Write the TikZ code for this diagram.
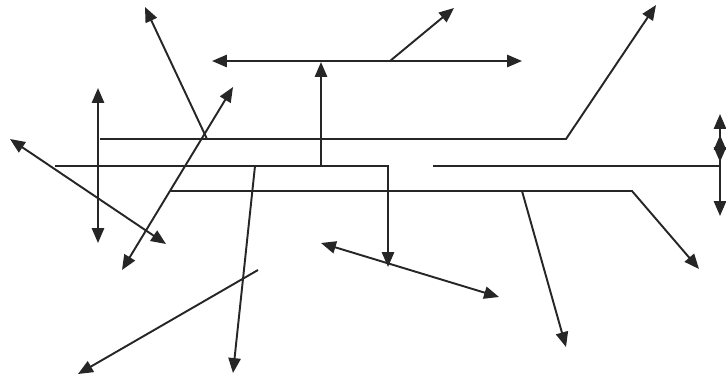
\documentclass[tikz,border=0pt]{standalone}
\usetikzlibrary{arrows.meta}
\begin{document}
\begin{tikzpicture}[x=0.02cm,y=-0.02cm,
  ln/.style={draw=black!85,line width=1.1pt,line join=miter},
  arr/.style={ln,-{Triangle[length=8.5pt,width=7pt]}},
  darr/.style={ln,{Triangle[length=8.5pt,width=7pt]}-{Triangle[length=8.5pt,width=7pt]}}]
\useasboundingbox (0,0) rectangle (726,386);
% coordinates
\coordinate (a0) at (100,139); \coordinate (a1) at (566,139); \coordinate (a2) at (656,5);
\coordinate (v0) at (98,88);   \coordinate (v1) at (98,243);
\coordinate (b0) at (55,166);  \coordinate (b1) at (388,166); \coordinate (b2) at (388,267);
\coordinate (u0) at (321,166); \coordinate (u1) at (321,62);
\coordinate (t0) at (212,61);  \coordinate (t1) at (522,61);
\coordinate (t2) at (390,61);  \coordinate (t3) at (454,8);
\coordinate (c0) at (433,166); \coordinate (c1) at (720,166);
\coordinate (r0) at (720,114); \coordinate (r1) at (720,162); \coordinate (r2) at (720,135);
\coordinate (r3) at (720,216);
\coordinate (d0) at (170,191); \coordinate (d1) at (632,191); \coordinate (d2) at (699,269);
\coordinate (e0) at (522,191); \coordinate (e1) at (566,347);
\coordinate (f0) at (255,166); \coordinate (f1) at (233,373);
\coordinate (g0) at (258,270); \coordinate (g1) at (78,374);
\coordinate (h0) at (321,243); \coordinate (h1) at (499,297);
\coordinate (k0) at (10,139);  \coordinate (k1) at (166,244);
\coordinate (m0) at (207,139); \coordinate (m1) at (145,7);
\coordinate (n0) at (122,270); \coordinate (n1) at (233,87);
% drawing
\draw[arr] (a0) -- (a1) -- (a2);
\draw[darr] (v0) -- (v1);
\draw[arr] (b0) -- (b1) -- (b2);
\draw[arr] (u0) -- (u1);
\draw[darr] (t0) -- (t1);
\draw[arr] (t2) -- (t3);
\draw[ln] (c0) -- (c1);
\draw[darr] (r0) -- (r1);
\draw[arr] (c1) -- (r2);
\draw[arr] (c1) -- (r3);
\draw[arr] (d0) -- (d1) -- (d2);
\draw[arr] (e0) -- (e1);
\draw[arr] (f0) -- (f1);
\draw[arr] (g0) -- (g1);
\draw[darr] (h0) -- (h1);
\draw[darr] (k0) -- (k1);
\draw[arr] (m0) -- (m1);
\draw[darr] (n0) -- (n1);
\end{tikzpicture}
\end{document}
